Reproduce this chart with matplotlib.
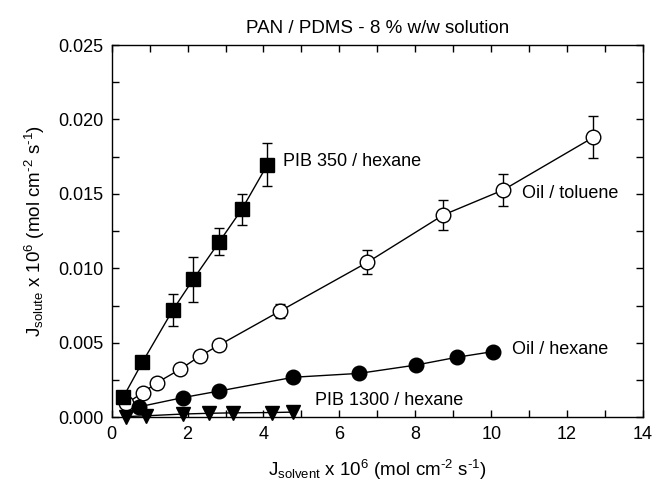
import matplotlib
matplotlib.use("Agg")
import matplotlib.pyplot as plt
from matplotlib.ticker import MultipleLocator, FormatStrFormatter

plt.rcParams["font.family"] = ["Liberation Sans", "DejaVu Sans"]
plt.rcParams["mathtext.default"] = "regular"

# PIB 350 / hexane (filled squares)
pib350_x = [0.31, 0.81, 1.61, 2.15, 2.84, 3.43, 4.10]
pib350_y = [0.00138, 0.00370, 0.00720, 0.00927, 0.01180, 0.01397, 0.01695]
pib350_err = [0.0003, 0.0003, 0.0011, 0.0015, 0.0009, 0.00105, 0.00145]

# Oil / toluene (open circles)
tol_x = [0.39, 0.82, 1.19, 1.80, 2.33, 2.84, 4.44, 6.74, 8.74, 10.32, 12.69]
tol_y = [0.00094, 0.00165, 0.00232, 0.00322, 0.00412, 0.00486, 0.00714,
         0.01041, 0.01359, 0.01527, 0.01880]
tol_err = [0, 0, 0, 0, 0, 0, 0.0005, 0.0008, 0.0010, 0.0011, 0.0014]

# Oil / hexane (filled circles)
hex_x = [0.73, 1.87, 2.84, 4.79, 6.52, 8.02, 9.09, 10.04]
hex_y = [0.00071, 0.00132, 0.00177, 0.00269, 0.00295, 0.00351, 0.00403, 0.00441]

# PIB 1300 / hexane (down triangles)
pib1300_x = [0.39, 0.90, 1.87, 2.57, 3.19, 4.22, 4.77]
pib1300_y = [0.00005, 0.00010, 0.00022, 0.00027, 0.00030, 0.00032, 0.00035]

fig = plt.figure(figsize=(6.55, 4.83), dpi=100)
ax = fig.add_axes([0.1705, 0.136, 0.8112, 0.7708])

ax.errorbar(pib350_x, pib350_y, yerr=pib350_err, fmt="-s", color="black",
            mfc="black", ms=10, lw=1.0, elinewidth=1.0, capsize=3.5,
            capthick=1.0, clip_on=False, zorder=3)
ax.errorbar(tol_x, tol_y, yerr=tol_err, fmt="-o", color="black",
            mfc="white", mec="black", ms=10.5, mew=1.0, lw=1.0,
            elinewidth=1.0, capsize=3.5, capthick=1.0, clip_on=False, zorder=2)
ax.plot(hex_x, hex_y, "-o", color="black", mfc="black", ms=10.5, lw=1.0,
        clip_on=False, zorder=3)
ax.plot(pib1300_x, pib1300_y, "-v", color="black", mfc="black", ms=10, lw=1.0,
        clip_on=False, zorder=3)

fs = 13
ax.text(4.51, 0.01717, "PIB 350 / hexane", fontsize=fs, va="center", ha="left")
ax.text(10.8, 0.01504, "Oil / toluene", fontsize=fs, va="center", ha="left")
ax.text(10.54, 0.00457, "Oil / hexane", fontsize=fs, va="center", ha="left")
ax.text(5.36, 0.0011, "PIB 1300 / hexane", fontsize=fs, va="center", ha="left")

ax.set_xlim(0, 14)
ax.set_ylim(0, 0.025)
ax.xaxis.set_major_locator(MultipleLocator(2))
ax.xaxis.set_minor_locator(MultipleLocator(1))
ax.yaxis.set_major_locator(MultipleLocator(0.005))
ax.yaxis.set_minor_locator(MultipleLocator(0.0025))
ax.yaxis.set_major_formatter(FormatStrFormatter("%.3f"))
ax.tick_params(which="both", direction="in", top=True, right=True,
               length=5, width=1.0, labelsize=13)
ax.tick_params(which="major", pad=6)
for s in ax.spines.values():
    s.set_linewidth(1.0)

hy = "\u2010"
ax.set_title("PAN / PDMS - 8 % w/w solution", fontsize=13.5, pad=9)
ax.set_xlabel("J$_{solvent}$ x 10$^{6}$ (mol cm$^{" + hy + "2}$ s$^{" + hy + "1}$)",
              fontsize=13.5, labelpad=11)
ax.set_ylabel("J$_{solute}$ x 10$^{6}$ (mol cm$^{" + hy + "2}$ s$^{" + hy + "1}$)",
              fontsize=13.5, labelpad=8)

fig.savefig("out.png", dpi=100)
